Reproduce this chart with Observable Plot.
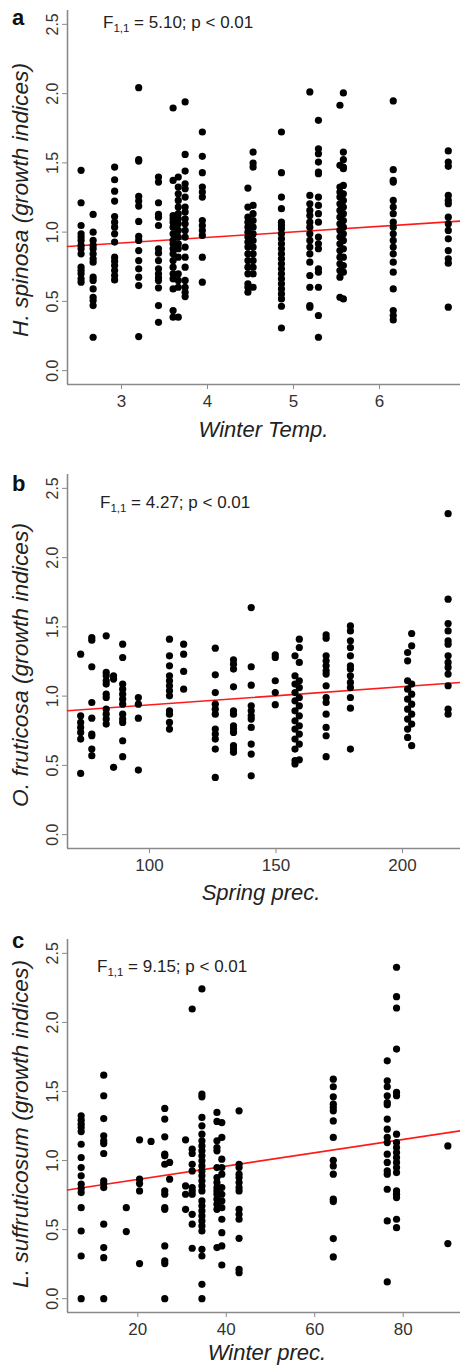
<!DOCTYPE html>
<html><head><meta charset="utf-8">
<script src="https://cdn.jsdelivr.net/npm/d3@7"></script>
<script src="https://cdn.jsdelivr.net/npm/@observablehq/plot@0.6"></script>
<style>
body{margin:0;background:#fff;}
#chart{width:460px;}
#chart svg{display:block;}
</style></head><body><div id="chart"></div>
<script>
// ---------- shared y axis ----------
const yDomain = [-0.1, 2.6];
const yTicks = [0, 0.5, 1, 1.5, 2, 2.5];

// ---------- panel a: H. spinosa vs Winter Temp. ----------
const aDomain = [2.372, 6.942];
const aTicks = [3, 4, 5, 6];
const aX = [2.53, 2.67, 2.92, 3.20, 3.43, 3.60, 3.66, 3.74, 3.94, 4.47, 4.53, 4.86, 5.19, 5.29, 5.54, 5.58, 6.16, 6.80];
const aY = [
  [1.446,1.212,1.048,0.988,0.964,0.940,0.904,0.880,0.843,0.747,0.723,0.699,0.663,0.639],
  [1.128,1.0,0.94,0.904,0.88,0.843,0.807,0.783,0.675,0.651,0.59,0.53,0.506,0.47,0.241],
  [1.47,1.378,1.296,1.224,1.113,1.072,1.036,0.988,0.928,0.819,0.79,0.759,0.723,0.687,0.655],
  [2.043,1.523,1.513,1.258,1.224,1.188,1.077,0.969,0.94,0.867,0.795,0.735,0.675,0.614,0.246],
  [1.398,1.361,1.212,1.128,1.108,1.048,0.88,0.848,0.795,0.735,0.699,0.67,0.651,0.598,0.47,0.349],
  [1.896,1.373,1.12,1.096,1.072,1.036,0.988,0.94,0.916,0.88,0.843,0.795,0.747,0.699,0.663,0.59,0.434,0.386],
  [1.398,1.325,1.277,1.229,1.181,1.133,1.096,1.06,1.012,0.964,0.916,0.88,0.819,0.699,0.651,0.602,0.386],
  [1.94,1.561,1.441,1.349,1.313,1.253,1.181,1.145,1.096,1.06,1.012,0.964,0.892,0.819,0.747,0.651,0.602,0.566,0.535],
  [1.723,1.547,1.429,1.325,1.289,1.253,1.084,1.048,1.012,0.976,0.819,0.639],
  [1.318,1.181,1.108,1.072,1.036,1.0,0.964,0.928,0.892,0.843,0.795,0.747,0.699,0.627,0.602,0.566],
  [1.578,1.499,1.47,1.193,1.133,1.084,1.036,0.988,0.94,0.892,0.843,0.795,0.747,0.699,0.602],
  [1.723,1.429,1.253,1.169,1.072,1.048,1.024,0.988,0.952,0.916,0.88,0.843,0.807,0.771,0.735,0.699,0.663,0.627,0.59,0.554,0.518,0.465,0.308],
  [2.012,1.265,1.205,1.157,1.12,1.072,1.036,0.988,0.94,0.892,0.843,0.783,0.687,0.602,0.47,0.458],
  [1.807,1.602,1.566,1.506,1.434,1.422,1.253,1.193,1.133,1.072,0.964,0.916,0.88,0.735,0.711,0.602,0.398,0.241],
  [1.916,1.482,1.325,1.289,1.253,1.205,1.157,1.108,1.06,1.012,0.964,0.916,0.867,0.819,0.771,0.723,0.675,0.53],
  [2.005,1.578,1.523,1.47,1.458,1.337,1.277,1.229,1.181,1.133,1.084,1.036,0.988,0.94,0.88,0.819,0.759,0.711,0.518],
  [1.947,1.451,1.373,1.361,1.229,1.181,1.133,1.072,1.036,0.988,0.94,0.892,0.843,0.783,0.711,0.59,0.434,0.398,0.366],
  [1.586,1.506,1.475,1.265,1.229,1.205,1.108,1.06,1.012,0.952,0.867,0.807,0.776,0.458]
];
const aFitX = [2.372, 6.942];
const aFitY = [0.896, 1.08];

// ---------- panel b: O. fruticosa vs Spring prec. ----------
const bDomain = [67.6, 222.9];
const bTicks = [100, 150, 200];
const bX = [72.8, 77.2, 82.9, 85.8, 89.4, 95.6, 107.9, 113.5, 126, 133.2, 140.2, 149.7, 157.5, 159.2, 169.8, 179.4, 202, 203.6, 218];
const bY = [
  [1.303,0.858,0.81,0.774,0.738,0.69,0.442],
  [1.423,1.404,1.212,0.954,0.841,0.726,0.714,0.618,0.57],
  [1.435,1.171,1.147,1.111,1.087,1.014,0.99,0.906,0.87,0.834,0.798],
  [1.147,1.123,0.486],
  [1.375,1.279,1.087,1.05,1.014,0.978,0.942,0.87,0.834,0.81,0.678,0.563],
  [0.99,0.942,0.841,0.466],
  [1.411,1.291,1.219,1.147,1.111,1.075,1.038,1.002,0.894,0.87,0.81,0.762],
  [1.375,1.303,1.178,1.05],
  [1.346,1.154,1.026,0.942,0.906,0.87,0.762,0.726,0.69,0.618,0.413],
  [1.262,1.231,1.195,1.067,0.894,0.87,0.786,0.762,0.738,0.642,0.618,0.594],
  [1.639,1.212,1.079,0.93,0.894,0.858,0.834,0.774,0.654,0.582,0.425],
  [1.298,1.279,1.111,1.026,0.938],
  [1.291,1.147,1.087,1.026,0.966,0.894,0.822,0.762,0.69,0.618,0.534,0.51],
  [1.411,1.351,1.243,1.111,1.062,0.99,0.93,0.858,0.786,0.726,0.654,0.54],
  [1.442,1.418,1.291,1.255,1.219,1.183,1.159,1.075,0.99,0.954,0.87,0.774,0.714,0.563],
  [1.507,1.471,1.399,1.351,1.291,1.219,1.195,1.147,1.099,1.062,0.99,0.913,0.618],
  [1.315,1.255,1.111,1.05,0.978,0.906,0.834,0.762,0.702],
  [1.452,1.363,1.087,1.014,0.942,0.87,0.798,0.642],
  [2.317,1.7,1.524,1.471,1.399,1.375,1.291,1.243,1.207,1.159,1.075,0.906,0.87]
];
const bFitX = [67.6, 222.9];
const bFitY = [0.894, 1.099];

// ---------- panel c: L. suffruticosum vs Winter prec. ----------
const cDomain = [4.11, 92.96];
const cTicks = [20, 40, 60, 80];
const cX = [7.2, 12.3, 17.4, 20.4, 23.0, 26.1, 27.2, 30.8, 32.3, 34.5, 37.9, 39.0, 42.9, 64.2, 76.4, 78.5, 90.1];
const cY = [
  [1.324,1.292,1.263,1.239,1.21,1.118,1.022,0.949,0.889,0.829,0.797,0.768,0.659,0.49,0.309,0],
  [1.618,1.469,1.304,1.179,1.143,1.123,1.051,0.853,0.833,0.804,0.539,0.37,0.297,0],
  [0.659,0.486],
  [1.15,0.865,0.833,0.78,0.254],
  [1.138],
  [1.377,1.3,1.172,1.046,1.034,0.973,0.78,0.756,0.659,0.647,0.382,0.273,0.254,0],
  [0.986,0.865],
  [1.15,0.816,0.756,0.647],
  [2.097,1.082,1.051,0.973,0.925,0.804,0.78,0.756,0.611,0.539,0.365],
  [2.242,1.481,1.461,1.312,1.251,1.191,1.143,1.106,1.07,1.034,0.998,0.961,0.925,0.889,0.853,0.816,0.78,0.708,0.672,0.635,0.599,0.563,0.527,0.49,0.357,0.309,0.104,0],
  [1.348,1.283,1.143,1.094,1.07,0.949,0.877,0.841,0.804,0.78,0.756,0.72,0.684,0.647,0.37],
  [1.275,1.167,1.01,0.949,0.901,0.804,0.756,0.708,0.659,0.575,0.478,0.382,0.244],
  [1.36,0.973,0.949,0.901,0.877,0.841,0.804,0.78,0.647,0.611,0.575,0.437,0.213,0.188],
  [1.589,1.534,1.461,1.408,1.384,1.36,1.287,1.167,1.002,0.961,0.901,0.72,0.703,0.435,0.302],
  [1.722,1.577,1.534,1.469,1.42,1.403,1.3,1.227,1.167,1.13,1.046,0.986,0.925,0.901,0.792,0.563,0.121],
  [2.399,2.186,2.104,1.807,1.493,1.469,1.191,1.13,1.094,1.058,1.022,0.986,0.949,0.913,0.78,0.756,0.732,0.575,0.514],
  [1.106,0.399]
];
const cFitX = [4.11, 92.96];
const cFitY = [0.787, 1.215];

// ---------- labels ----------
const letters = ["a", "b", "c"];
const species = ["H. spinosa", "O. fruticosa", "L. suffruticosum"];
const xLabels = ["Winter Temp.", "Spring prec.", "Winter prec."];
const fStats = ["5.10", "4.27", "9.15"];

// ---------- layout (positions, not data) ----------
const layout = [
  {h: 440, mt: 10, mb: 56, letterY: 25, statX: 103, statY: 28, statLen: 150, ylabY: 200, ylabLen: 274, ylabSize: 22.5, xlabX: 263.5, xlabY: 437},
  {h: 460, mt: 34, mb: 52, letterY: 51, statX: 100, statY: 68, statLen: 147, ylabY: 225, ylabLen: 284, ylabSize: 22.5, xlabX: 261, xlabY: 460},
  {h: 466, mt: 39, mb: 54, letterY: 48, statX: 97, statY: 72, statLen: 148, ylabY: 224, ylabLen: 328, ylabSize: 22.5, xlabX: 267, xlabY: 460}
];

const FONT = '"Liberation Sans", Arial, Helvetica, sans-serif';
const panels = [
  {xs: aX, ys: aY, dom: aDomain, ticks: aTicks, fx: aFitX, fy: aFitY},
  {xs: bX, ys: bY, dom: bDomain, ticks: bTicks, fx: bFitX, fy: bFitY},
  {xs: cX, ys: cY, dom: cDomain, ticks: cTicks, fx: cFitX, fy: cFitY}
];

const root = document.getElementById("chart");
panels.forEach((p, i) => {
  const L = layout[i];
  const pts = p.xs.flatMap((x, j) => p.ys[j].map(y => ({x, y})));
  const fit = p.fx.map((x, j) => ({x, y: p.fy[j]}));
  const svg = Plot.plot({
    width: 460, height: L.h,
    marginLeft: 67, marginRight: 0, marginTop: L.mt, marginBottom: L.mb,
    style: {fontFamily: FONT, background: "#fff", overflow: "visible"},
    x: {domain: p.dom},
    y: {domain: yDomain},
    marks: [
      Plot.axisX({ticks: p.ticks, tickSize: 5, tickPadding: 5, stroke: "#8a8a8a", fill: "#333", fontSize: 17, label: null, tickFormat: d => String(d)}),
      Plot.axisY({ticks: yTicks, tickSize: 5, tickPadding: 5, tickRotate: -90, stroke: "#8a8a8a", fill: "#333", fontSize: 16, label: null, tickFormat: d3.format(".1f")}),
      Plot.ruleX([p.dom[0]], {stroke: "#8a8a8a", strokeWidth: 1.6}),
      Plot.ruleY([yDomain[0]], {stroke: "#8a8a8a", strokeWidth: 1.6}),
      Plot.line(fit, {x: "x", y: "y", stroke: "#ff1a1a", strokeWidth: 1.6}),
      Plot.dot(pts, {x: "x", y: "y", r: 3.6, fill: "#000", stroke: "none"})
    ]
  });
  const s = d3.select(svg);
  // panel letter
  s.append("text").attr("x", 12).attr("y", L.letterY).attr("text-anchor", "start")
    .attr("font-size", 22).attr("font-weight", "bold").attr("fill", "#111").attr("font-family", FONT)
    .text(letters[i]);
  // F statistic
  const t = s.append("text").attr("x", L.statX).attr("y", L.statY).attr("text-anchor", "start")
    .attr("font-size", 17).attr("fill", "#222").attr("font-family", FONT);
  t.append("tspan").text("F");
  t.append("tspan").attr("font-size", 11.5).attr("dy", 3.5).text("1,1");
  t.append("tspan").attr("dy", -3.5).text(" = " + fStats[i] + "; p < 0.01");
  // y title
  s.append("text").attr("transform", `translate(28,${L.ylabY}) rotate(-90)`)
    .attr("text-anchor", "middle").attr("font-size", L.ylabSize).attr("font-style", "italic")
    .attr("fill", "#222").attr("font-family", FONT)
    .attr("textLength", L.ylabLen).attr("lengthAdjust", "spacingAndGlyphs")
    .text(species[i] + " (growth indices)");
  // x title
  s.append("text").attr("x", L.xlabX).attr("y", L.xlabY)
    .attr("text-anchor", "middle").attr("font-size", 22).attr("font-style", "italic")
    .attr("fill", "#222").attr("font-family", FONT)
    .text(xLabels[i]);
  root.appendChild(svg);
});
</script>
</body></html>
